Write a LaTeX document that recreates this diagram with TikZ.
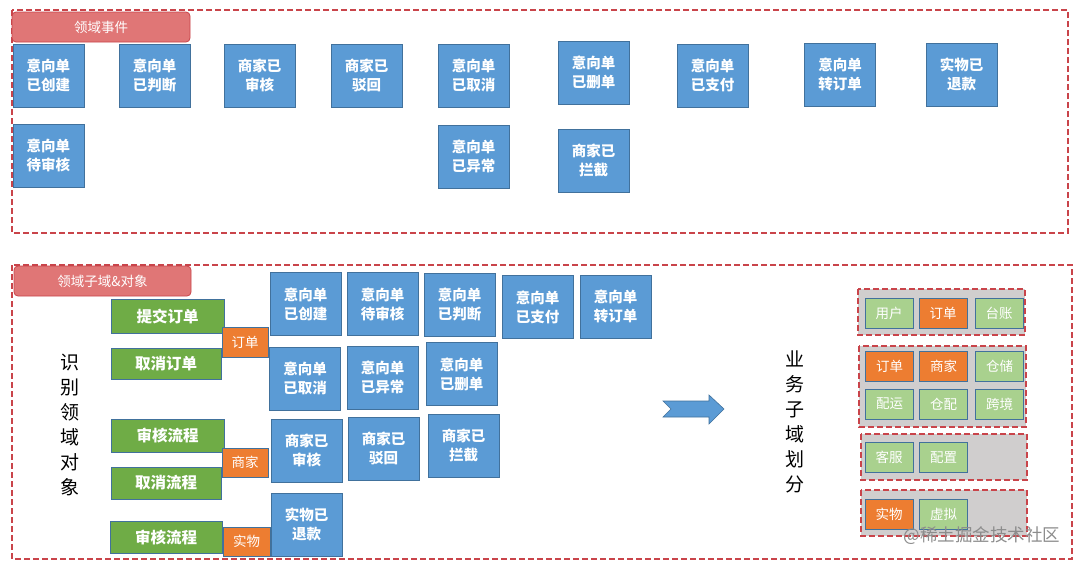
\documentclass[tikz,border=0pt]{standalone}
\usepackage{fontspec}
\setmainfont{Noto Sans CJK SC}
\usepackage{tikz}
\usepackage{xcolor}
\definecolor{evtblue}{HTML}{5B9BD5}
\definecolor{boxline}{HTML}{41719C}
\definecolor{actgreen}{HTML}{6FAC46}
\definecolor{subgreen}{HTML}{A9D18E}
\definecolor{objorange}{HTML}{ED7D31}
\definecolor{dashred}{HTML}{C9444A}
\definecolor{tagred}{HTML}{E07676}
\definecolor{grpgray}{HTML}{D0CECE}

\begin{document}
\begin{tikzpicture}[x=1pt,y=-1pt,line cap=butt,
  evt/.style={draw=boxline,fill=evtblue,text=white,align=center,inner sep=0pt,
    minimum width=71pt,minimum height=63pt,font=\bfseries\fontsize{14.5}{19}\selectfont},
  act/.style={draw=boxline,fill=actgreen,text=white,inner sep=0pt,
    minimum width=112pt,minimum height=32pt,font=\bfseries\fontsize{15.5}{18}\selectfont},
  obj/.style={draw=boxline,fill=objorange,text=white,inner sep=0pt,
    minimum width=46pt,minimum height=29pt,font=\fontsize{13.5}{16}\selectfont},
  sub/.style={draw=boxline,fill=subgreen,text=white,inner sep=0pt,
    minimum width=48pt,minimum height=30pt,font=\fontsize{13.5}{16}\selectfont},
  subobj/.style={sub,fill=objorange},
  zone/.style={draw=dashred,line width=1.1pt,dash pattern=on 6pt off 3pt},
  grp/.style={zone,fill=grpgray},
  tag/.style={draw=dashred,fill=tagred,text=white,rounded corners=4pt,line width=0.8pt,
    font=\fontsize{13.5}{16}\selectfont},
  vtext/.style={align=center,inner sep=0pt,font=\fontsize{19}{25}\selectfont}]
\useasboundingbox[fill=white] (0,0) rectangle (1080,562);

% domain events
\draw[zone] (12,10) rectangle (1068,233);
\draw[tag] (12,12) rectangle (190,42) node[midway] (tagevt) {领域事件};
\node[evt] (e1) at (48.5,75.5) {意向单\\已创建};
\node[evt] (e2) at (154.5,75.5) {意向单\\已判断};
\node[evt] (e3) at (259.5,75.5) {商家已\\审核};
\node[evt] (e4) at (366.5,75.5) {商家已\\驳回};
\node[evt] (e5) at (473.5,75.5) {意向单\\已取消};
\node[evt] (e6) at (593.5,72.5) {意向单\\已删单};
\node[evt] (e7) at (712.5,75.5) {意向单\\已支付};
\node[evt] (e8) at (840,74.5) {意向单\\转订单};
\node[evt] (e9) at (961.5,74.5) {实物已\\退款};
\node[evt] (e10) at (48.5,155.5) {意向单\\待审核};
\node[evt] (e11) at (473.5,156.5) {意向单\\已异常};
\node[evt] (e12) at (593.5,160.5) {商家已\\拦截};

% subdomains and objects
\draw[zone] (12,265) rectangle (1072,559);
\draw[tag] (14,266) rectangle (191,296) node[midway] (tagsub) {领域子域\&对象};
\node[vtext] (idobj) at (70,425) {识\\别\\领\\域\\对\\象};

\node[act,minimum width=113pt,minimum height=34pt] (g1) at (167.5,316) {提交订单};
\node[act,minimum width=110pt,minimum height=31pt] (g2) at (166,363.5) {取消订单};
\node[act,minimum width=113pt,minimum height=33pt] (g3) at (167.5,435.5) {审核流程};
\node[act,minimum width=110pt] (g4) at (166,483) {取消流程};
\node[act] (g5) at (166,537) {审核流程};

\node[obj,minimum height=30pt] (o1) at (245,342) {订单};
\node[obj] (o2) at (245,462.5) {商家};
\node[obj,minimum width=47pt] (o3) at (246.5,541.5) {实物};

\node[evt] (b1) at (305.5,304) {意向单\\已创建};
\node[evt] (b2) at (382.5,304) {意向单\\待审核};
\node[evt] (b3) at (459.5,304.5) {意向单\\已判断};
\node[evt] (b4) at (537.5,307) {意向单\\已支付};
\node[evt] (b5) at (615.5,306.5) {意向单\\转订单};
\node[evt] (b6) at (305,378.5) {意向单\\已取消};
\node[evt] (b7) at (382.5,377.5) {意向单\\已异常};
\node[evt] (b8) at (461.5,374) {意向单\\已删单};
\node[evt] (b9) at (306.5,450.5) {商家已\\审核};
\node[evt] (b10) at (383.5,448.5) {商家已\\驳回};
\node[evt] (b11) at (463.5,445.5) {商家已\\拦截};
\node[evt] (b12) at (306.5,524.5) {实物已\\退款};

% block arrow
\fill[evtblue,draw=boxline,line width=0.6pt] (663,401) -- (709,401) -- (709,395) -- (724,409)
  -- (709,424) -- (709,417) -- (663,417) -- (671,409) -- cycle;
\node[vtext] (split) at (795,422) {业\\务\\子\\域\\划\\分};

% business subdomains
\draw[grp] (858,289) rectangle (1025,335);
\node[sub] (s1) at (889,313) {用户};
\node[subobj] (s2) at (943,313) {订单};
\node[sub] (s3) at (999,313) {台账};
\draw[grp] (859,346) rectangle (1026,427);
\node[subobj] (s4) at (889.5,366) {订单};
\node[subobj] (s5) at (943.5,366) {商家};
\node[sub] (s6) at (999.5,366) {仓储};
\node[sub] (s7) at (889.5,404) {配运};
\node[sub] (s8) at (943.5,404) {仓配};
\node[sub] (s9) at (999.5,404) {跨境};
\draw[grp] (861,434) rectangle (1027,480);
\node[sub] (s10) at (889,457.5) {客服};
\node[sub] (s11) at (943.5,457.5) {配置};
\draw[grp] (861,490) rectangle (1027,536);
\node[subobj] (s12) at (889,514) {实物};
\node[sub] (s13) at (943.5,514) {虚拟};

\node[text=black!45,font=\fontsize{17.5}{20}\selectfont] (mark) at (982,536) {@稀土掘金技术社区};
\end{tikzpicture}
\end{document}
